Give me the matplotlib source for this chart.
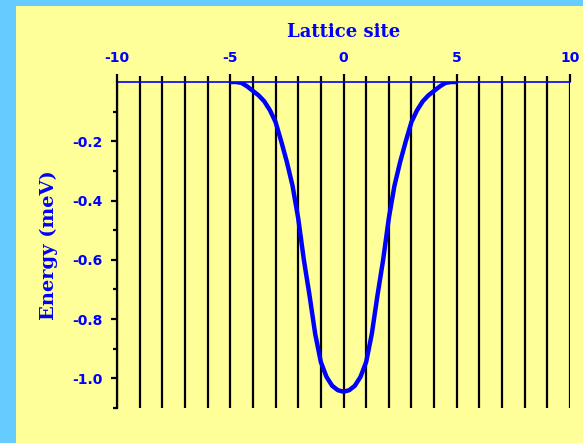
import matplotlib
matplotlib.use("Agg")
import matplotlib.pyplot as plt
from matplotlib.patches import Rectangle
from matplotlib.ticker import FixedLocator

plt.rcParams["axes.unicode_minus"] = False

# Lattice sites (one vertical line per site)
lattice_sites = list(range(-10, 11))
labelled_sites = [-10, -5, 0, 5, 10]

# Potential energy profile along the chain
position = [-5.0, -4.75, -4.5, -4.25, -4.0, -3.75, -3.5, -3.25, -3.0, -2.75,
            -2.5, -2.25, -2.0, -1.75, -1.5, -1.25, -1.0, -0.75, -0.5, -0.25,
            0.0, 0.25, 0.5, 0.75, 1.0, 1.25, 1.5, 1.75, 2.0, 2.25,
            2.5, 2.75, 3.0, 3.25, 3.5, 3.75, 4.0, 4.25, 4.5, 4.75, 5.0]
energy = [0.0, 0.0, -0.003, -0.015, -0.03, -0.045, -0.065, -0.095, -0.135, -0.20,
          -0.27, -0.35, -0.46, -0.60, -0.72, -0.85, -0.945, -0.995, -1.025, -1.04,
          -1.045, -1.04, -1.025, -0.995, -0.945, -0.85, -0.72, -0.60, -0.46, -0.35,
          -0.27, -0.20, -0.135, -0.095, -0.065, -0.045, -0.03, -0.015, -0.003, 0.0, 0.0]

energy_ticks = [-0.2, -0.4, -0.6, -0.8, -1.0]
energy_tick_labels = ["-0.2", "-0.4", "-0.6", "-0.8", "-1.0"]
energy_minor = [-0.1, -0.3, -0.5, -0.7, -0.9, -1.1]

BG = "#FFFF99"
FRAME = "#66CCFF"
BLUE = "#0000FF"

W, H = 583, 443
fig = plt.figure(figsize=(W / 100, H / 100), dpi=100, facecolor=BG)

# blue frame strips along the top and left edges
fig.patches.append(Rectangle((0, 1 - 6 / H), 1, 6 / H, transform=fig.transFigure,
                             facecolor=FRAME, edgecolor="none", zorder=0))
fig.patches.append(Rectangle((0, 0), 16 / W, 1, transform=fig.transFigure,
                             facecolor=FRAME, edgecolor="none", zorder=0))

ax = fig.add_axes([117 / W, 1 - 408 / H, (570 - 117) / W, (408 - 82) / H])
ax.set_facecolor(BG)

ax.set_xlim(-10, 10)
ax.set_ylim(-1.1, 0)

# vertical lines at each lattice site
ax.xaxis.set_major_locator(FixedLocator(labelled_sites))
ax.xaxis.set_minor_locator(FixedLocator(lattice_sites))
ax.grid(True, axis="x", which="both", color="black", lw=1.6, zorder=1)
ax.set_axisbelow(True)

ax.plot(position, energy, color=BLUE, lw=3.2, zorder=3, solid_capstyle="butt",
        solid_joinstyle="round")

# top axis: lattice site
ax.xaxis.tick_top()
ax.xaxis.set_label_position("top")
ax.tick_params(axis="x", which="major", direction="out", length=6, width=1.6,
               color="black", labelcolor=BLUE, pad=6, labelsize=10)
ax.tick_params(axis="x", which="minor", direction="out", length=4.5, width=1.6,
               color="black")
for lab in ax.get_xticklabels():
    lab.set_fontweight("bold")
ax.set_xlabel("Lattice site", color=BLUE, fontsize=13, fontweight="bold",
              family="DejaVu Serif", labelpad=10)

# left axis: energy
ax.yaxis.set_major_locator(FixedLocator(energy_ticks))
ax.yaxis.set_minor_locator(FixedLocator(energy_minor))
ax.set_yticklabels(energy_tick_labels)
ax.tick_params(axis="y", which="major", direction="out", length=4.5, width=1.6,
               color="black", labelcolor=BLUE, pad=6, labelsize=10)
ax.tick_params(axis="y", which="minor", direction="out", length=3, width=1.6,
               color="black")
for lab in ax.get_yticklabels():
    lab.set_fontweight("bold")
ax.set_ylabel("Energy (meV)", color=BLUE, fontsize=14, fontweight="bold",
              family="DejaVu Serif", labelpad=10)

for side in ("right", "bottom"):
    ax.spines[side].set_visible(False)
ax.spines["left"].set_color("black")
ax.spines["left"].set_linewidth(1.6)
ax.spines["top"].set_color(BLUE)
ax.spines["top"].set_linewidth(1.2)
ax.spines["top"].set_zorder(2)

fig.savefig("out.png", dpi=100, facecolor=BG)
